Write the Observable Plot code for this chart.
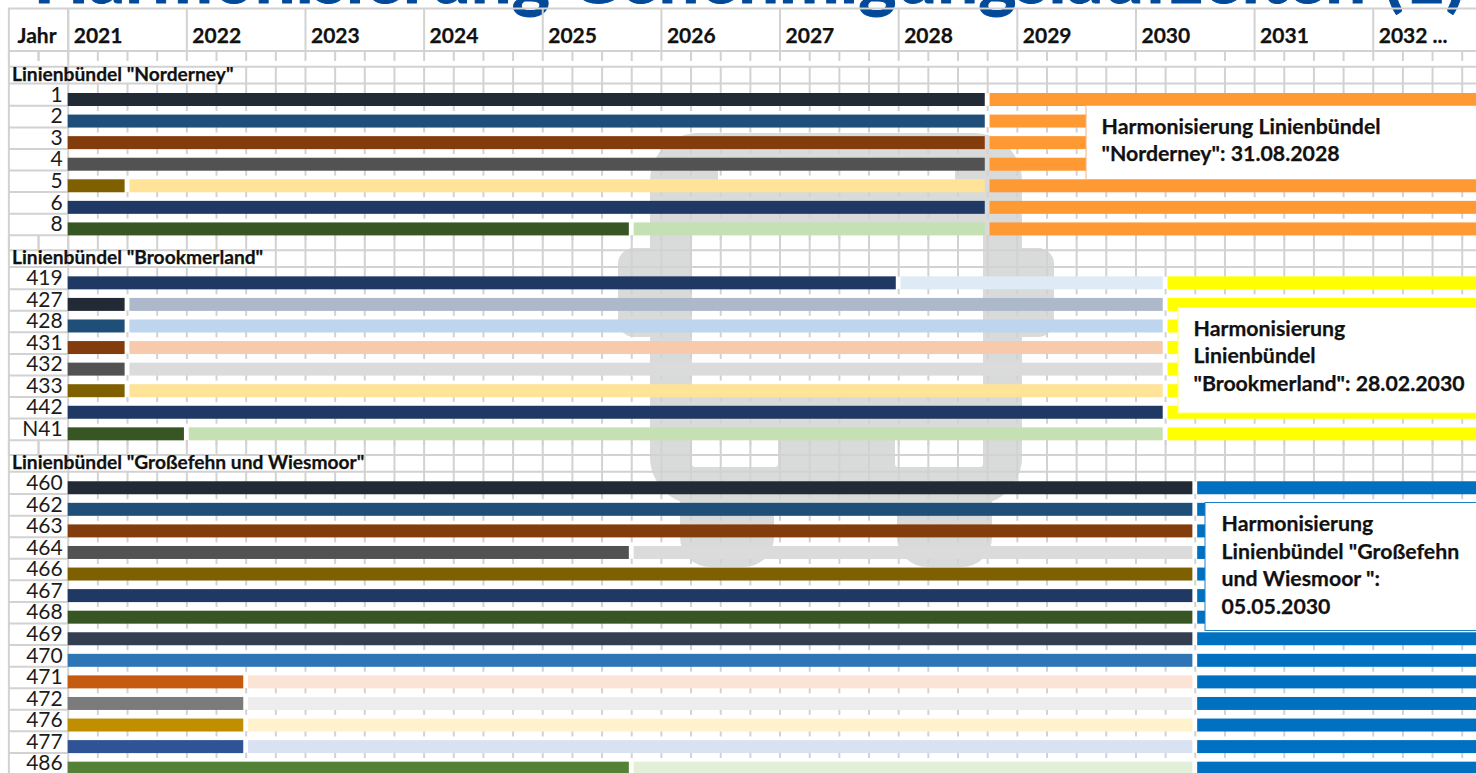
<!DOCTYPE html>
<html><head><meta charset="utf-8">
<script src="https://cdn.jsdelivr.net/npm/d3@7"></script>
<script src="https://cdn.jsdelivr.net/npm/@observablehq/plot@0.6"></script>
<style>html,body{margin:0;padding:0;background:#fff;overflow:hidden}svg{overflow:hidden;display:block}</style>
</head><body><div id="chart"></div>
<script>
// ---- Data ----
const titleText = "Harmonisierung Genehmigungslaufzeiten (1)";
const years = [2021,2022,2023,2024,2025,2026,2027,2028,2029,2030,2031,2032];
const yearLabels = ["2021","2022","2023","2024","2025","2026","2027","2028","2029","2030","2031","2032 ..."];

const norderneyName = 'Linienbündel "Norderney"';
const norderneyLines = ["1","2","3","4","5","6","8"];
const norderneySwitch = [null,null,null,null,2021.5,null,2025.75];
const norderneyEnd = 2028.75;

const brookmerlandName = 'Linienbündel "Brookmerland"';
const brookmerlandLines = ["419","427","428","431","432","433","442","N41"];
const brookmerlandSwitch = [2028,2021.5,2021.5,2021.5,2021.5,2021.5,null,2022];
const brookmerlandEnd = 2030.25;

const grossefehnName = 'Linienbündel "Großefehn und Wiesmoor"';
const grossefehnLines = ["460","462","463","464","466","467","468","469","470","471","472","476","477","486"];
const grossefehnSwitch = [null,null,null,2025.75,null,null,null,null,null,2022.5,2022.5,2022.5,2022.5,2025.75];
const grossefehnEnd = 2030.5;

// ---- Colours ----
const norderneyDark = ["#222b35","#1f4e78","#833c0b","#525252","#7f6000","#203864","#375623"];
const norderneyLight = [null,null,null,null,"#ffe399",null,"#c5e0b3"];
const brookmerlandDark = ["#203864","#222b35","#1f4e78","#833c0b","#525252","#7f6000","#203864","#375623"];
const brookmerlandLight = ["#deeaf6","#adb9ca","#bdd6ee","#f7caac","#dbdbdb","#ffe399",null,"#c5e0b3"];
const grossefehnDark = ["#222b35","#1f4e78","#833c0b","#525252","#7f6000","#203864","#375623","#333f50","#2e75b6","#c55a11","#7b7b7b","#bf8f00","#2f5496","#538135"];
const grossefehnLight = [null,null,null,"#dbdbdb",null,null,null,null,null,"#fbe4d5","#ededed","#fff2cc","#d9e2f3","#e2efd9"];
const harmonised = ["#ff9933","#ffff00","#0070c0"];
const gridColor = "#d2d2d2", busColor = "#d9dada", titleColor = "#004a99";
const font = "Lato, 'Open Sans', sans-serif";

// ---- Scales: pixel layout of the sheet expressed in years / row units ----
const W = 1476, H = 773;
const yearPx = 118.64, year0Px = 67.7, rowPx = 21.57, row0Px = 99.5;
const xAt = px => 2021 + (px - year0Px) / yearPx;
const yAt = px => (px - row0Px) / rowPx;
const xEnd = xAt(W);
const barHalf = 0.301;

// ---- Table construction ----
const groups = [
  {name: norderneyName, lines: norderneyLines, sw: norderneySwitch, end: norderneyEnd, dark: norderneyDark, light: norderneyLight, color: harmonised[0], headStart: 2022.5},
  {name: brookmerlandName, lines: brookmerlandLines, sw: brookmerlandSwitch, end: brookmerlandEnd, dark: brookmerlandDark, light: brookmerlandLight, color: harmonised[1], headStart: 2022.75},
  {name: grossefehnName, lines: grossefehnLines, sw: grossefehnSwitch, end: grossefehnEnd, dark: grossefehnDark, light: grossefehnLight, color: harmonised[2], headStart: 2023.5}
];
const quarters = [];
for (let q = 2020.5; q < xEnd; q += 0.25) quarters.push(q);
const rows = [], heads = [];
let pos = 0;
groups.forEach((g, gi) => {
  g.first = pos;
  heads.push({name: g.name, pos: pos - 1.17, top: pos - 1.54, bottom: pos - 0.76, start: g.headStart});
  g.lines.forEach((line, i) => {
    rows.push({line, pos, first: i === 0, x1: 2021, sw: g.sw[i], end: g.end, dark: g.dark[i], light: g.light[i], color: g.color});
    pos += 1;
  });
  g.last = pos - 1;
  pos += 1.5;
});

// vertical grid segments
const vSegs = [];
const hSegs = [];
// year row
years.forEach(y => vSegs.push({x: y, y1: yAt(8), y2: yAt(51)}));
vSegs.push({x: 2020.5, y1: yAt(8), y2: yAt(H)});
vSegs.push({x: 2021, y1: yAt(8), y2: yAt(H)});
hSegs.push({y: yAt(8), x1: 2020.5, x2: xEnd});
hSegs.push({y: yAt(50.5), x1: 2020.5, x2: xEnd});
// thin row above the first header
quarters.forEach(q => vSegs.push({x: q, y1: yAt(51), y2: yAt(61)}));
vSegs.push({x: 2020.75, y1: yAt(51), y2: yAt(61)});
// group headers and thin rows
groups.forEach((g, gi) => {
  const h = heads[gi];
  hSegs.push({y: h.top, x1: 2020.5, x2: xEnd});
  hSegs.push({y: h.bottom, x1: 2020.5, x2: xEnd});
  quarters.filter(q => q >= h.start).forEach(q => vSegs.push({x: q, y1: h.top, y2: h.bottom}));
  if (gi < groups.length - 1) {
    const from = g.last + barHalf;
    quarters.concat([2020.75]).forEach(q => vSegs.push({x: q, y1: from, y2: heads[gi + 1].top}));
  }
});
// short ticks below every bar, and above the first bar of a group
rows.forEach(r => {
  quarters.filter(q => q > 2021).forEach(q => {
    vSegs.push({x: q, y1: r.pos + barHalf - 0.02, y2: r.pos + 0.53});
    if (r.first) vSegs.push({x: q, y1: r.pos - 0.76, y2: r.pos - barHalf + 0.02});
  });
  hSegs.push({y: r.pos + 0.27, x1: 2020.5, x2: 2021});
});

const barsDark = rows.map(r => ({pos: r.pos, x1: r.x1, x2: r.sw ?? r.end, fill: r.dark}));
const barsLight = rows.filter(r => r.sw).map(r => ({pos: r.pos, x1: r.sw, x2: r.end, fill: r.light}));
const barsFinal = rows.map(r => ({pos: r.pos, x1: r.end, x2: xEnd, fill: r.color}));

// bus watermark (decoration behind the table), layout in sheet pixels
const bus = [
  {l: 618, r: 700, t: 248, b: 337, rx: 16, fill: busColor},
  {l: 972, r: 1054, t: 248, b: 337, rx: 16, fill: busColor},
  {l: 680, r: 774, t: 470, b: 567, rx: 30, fill: busColor},
  {l: 897, r: 992, t: 470, b: 567, rx: 30, fill: busColor},
  {l: 650, r: 1022, t: 133, b: 505, rx: 48, fill: busColor},
  {l: 718, r: 955, t: 161, b: 186, rx: 4, fill: "#fff"},
  {l: 692, r: 983, t: 228, b: 388, rx: 3, fill: "#fff"},
  {l: 692, r: 778, t: 434, b: 467, rx: 3, fill: "#fff"},
  {l: 895, r: 983, t: 434, b: 467, rx: 3, fill: "#fff"}
];

// note boxes
const notes = [
  {l: 1086, t: 105.5, b: 179.5, stroke: "#f8b27a", tx: 1101, lines: ['Harmonisierung Linienbündel', '"Norderney": 31.08.2028'], ys: [127, 154]},
  {l: 1178, t: 307.5, b: 413, stroke: "#ffff66", tx: 1193, lines: ['Harmonisierung', 'Linienbündel', '"Brookmerland": 28.02.2030'], ys: [329, 356, 384]},
  {l: 1205, t: 502.5, b: 630.5, stroke: "#1a80c8", tx: 1221, lines: ['Harmonisierung', 'Linienbündel "Großefehn', 'und Wiesmoor ":', '05.05.2030'], ys: [524, 552, 579, 607]}
];
const noteText = notes.flatMap(n => n.lines.map((t, i) => ({t, x: xAt(n.tx), y: yAt(n.ys[i])})));

const rectOpts = {x1: "x1", x2: "x2", y1: d => d.pos - barHalf, y2: d => d.pos + barHalf, fill: d => d.fill};
const boldText = {fontWeight: 700, fill: "#111", stroke: "#111", strokeWidth: 0.25, textAnchor: "start"};

const plot = Plot.plot({
  width: W, height: H,
  marginTop: 0, marginRight: 0, marginBottom: 0, marginLeft: 0,
  style: {fontFamily: font, background: "#fff", overflow: "hidden"},
  x: {domain: [xAt(0), xAt(W)], range: [0, W], axis: null},
  y: {domain: [yAt(0), yAt(H)], range: [0, H], axis: null},
  marks: [
    Plot.rect(bus, {x1: d => xAt(d.l), x2: d => xAt(d.r), y1: d => yAt(d.t), y2: d => yAt(d.b), fill: d => d.fill, render(index, scales, values, dims, ctx, next) {
      const g = next(index, scales, values, dims, ctx);
      d3.select(g).selectAll("rect").each(function(_, i) { this.setAttribute("rx", bus[index[i]].rx); });
      return g;
    }}),
    Plot.text([titleText], {x: () => xAt(33), y: () => yAt(2.3), text: d => d, textAnchor: "start", lineAnchor: "bottom", fontSize: 72.5, fontWeight: 700, fill: titleColor, stroke: titleColor, strokeWidth: 1, fontFamily: font}),
    Plot.ruleX(vSegs, {x: "x", y1: "y1", y2: "y2", stroke: gridColor, strokeWidth: 2}),
    Plot.ruleY(hSegs, {y: "y", x1: "x1", x2: "x2", stroke: gridColor, strokeWidth: 2}),
    Plot.rect(barsDark, {...rectOpts, insetRight: 2.4}),
    Plot.rect(barsLight, {...rectOpts, insetLeft: 2.4, insetRight: 2.4}),
    Plot.rect(barsFinal, {...rectOpts, insetLeft: 2.4}),
    Plot.rect(notes, {x1: d => xAt(d.l), x2: () => xAt(W + 10), y1: d => yAt(d.t), y2: d => yAt(d.b), fill: "#fff", stroke: d => d.stroke, strokeWidth: 1}),
    // header labels
    Plot.text(["Jahr"], {x: () => xAt(17), y: () => yAt(36), text: d => d, fontSize: 21, ...boldText}),
    Plot.text(years, {x: d => d, y: () => yAt(36), text: (d, i) => yearLabels[i], dx: 5.5, fontSize: 21, ...boldText}),
    // group names
    Plot.text(heads, {x: () => xAt(11.5), y: "pos", text: "name", fontSize: 19.2, ...boldText}),
    // line labels
    Plot.text(rows, {x: () => 2021, y: "pos", text: "line", dx: -5.5, dy: -5, textAnchor: "end", fontSize: 21, fill: "#1c1c1c"}),
    // notes
    Plot.text(noteText, {x: "x", y: "y", text: "t", fontSize: 21.3, ...boldText})
  ]
});
document.getElementById("chart").appendChild(plot);
</script></body></html>
